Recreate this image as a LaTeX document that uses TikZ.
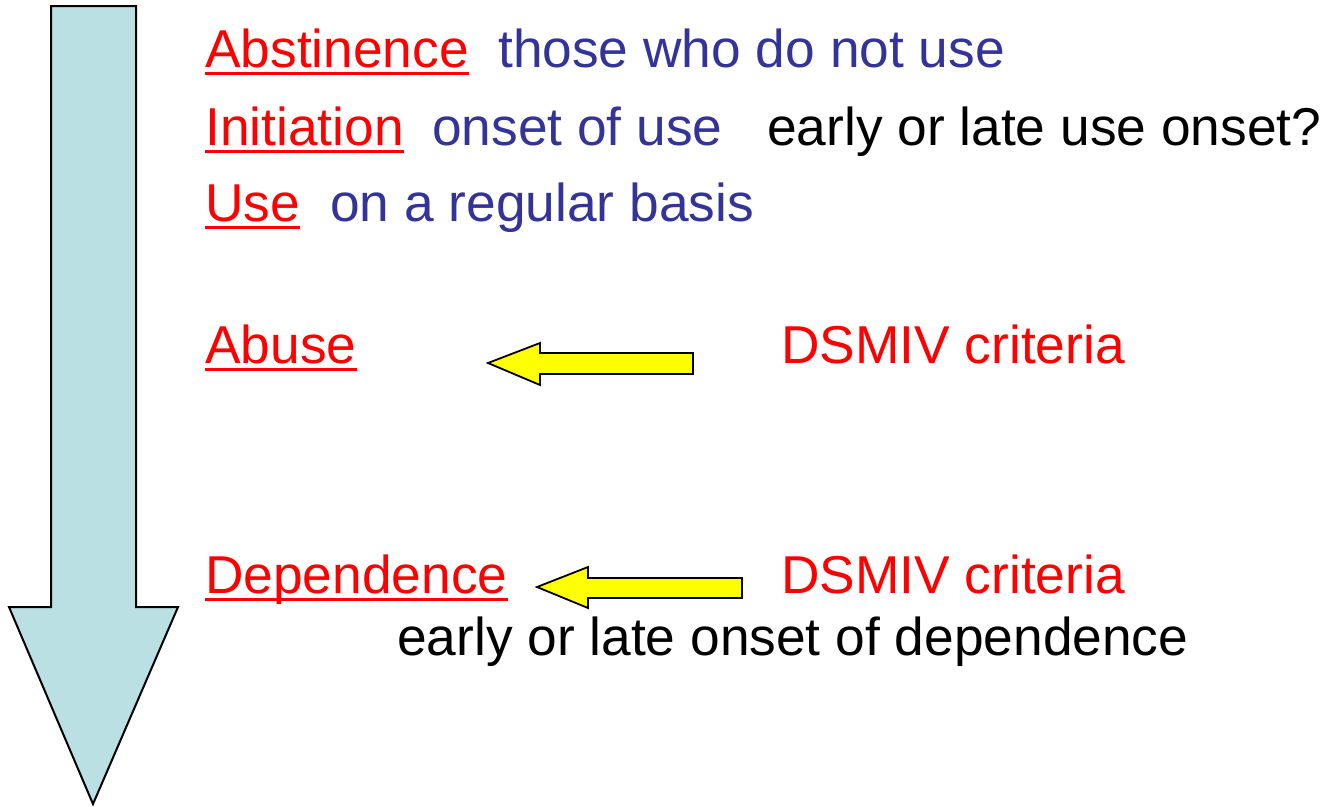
\documentclass[tikz,border=0pt]{standalone}
\usepackage{fontspec}
\setmainfont{Liberation Sans}
\definecolor{tred}{RGB}{255,0,0}
\definecolor{tblue}{RGB}{51,51,153}
\definecolor{tcyan}{RGB}{187,224,227}
\definecolor{tyellow}{RGB}{255,255,0}
\begin{document}
\begin{tikzpicture}[x=1pt,y=-1pt,
  txt/.style={anchor=base west,inner sep=0pt,font=\fontsize{53.3}{60}\selectfont},
  term/.style={txt,text=tred},
  desc/.style={txt,text=tblue},
  note/.style={txt,text=black},
  uline/.style={draw=tred,line width=3pt},
  bigarrow/.style={draw=black,line width=2pt,fill=tcyan,line join=miter},
  yarrow/.style={draw=black,line width=1.8pt,fill=tyellow,line join=miter}]
\useasboundingbox (0,0) rectangle (1324,806);
% big down arrow
\draw[bigarrow] (51,6) -- (136,6) -- (136,607) -- (178,607) -- (93,804) -- (9,607) -- (51,607) -- cycle;
% texts
\node[term] (abst) at (205,67) {Abstinence};
\node[desc] (abstd) at (498,67) {those who do not use};
\node[term] (init) at (205,145) {Initiation};
\node[desc] (initd) at (432,145) {onset of use};
\node[note] (initn) at (767,145) {early or late use onset?};
\node[term] (use) at (205,221) {Use};
\node[desc] (used) at (330,221) {on a regular basis};
\node[term] (abuse) at (205,363) {Abuse};
\node[term] (dsm1) at (781,363) {DSMIV criteria};
\node[term] (dep) at (205,593) {Dependence};
\node[term] (dsm2) at (781,593) {DSMIV criteria};
\node[note] (depn) at (397,655) {early or late onset of dependence};
% underlines
\foreach \n in {abst,init,use,abuse,dep}{
  \draw[uline] ([yshift=-6pt]\n.base west) -- ([yshift=-6pt]\n.base east);
}
% yellow arrows
\draw[yarrow] (693,353) -- (540,353) -- (540,343) -- (488,363) -- (540,385) -- (540,374) -- (693,374) -- cycle;
\draw[yarrow] (742,578) -- (588,578) -- (588,567) -- (537,587) -- (588,608) -- (588,598) -- (742,598) -- cycle;
\end{tikzpicture}
\end{document}
